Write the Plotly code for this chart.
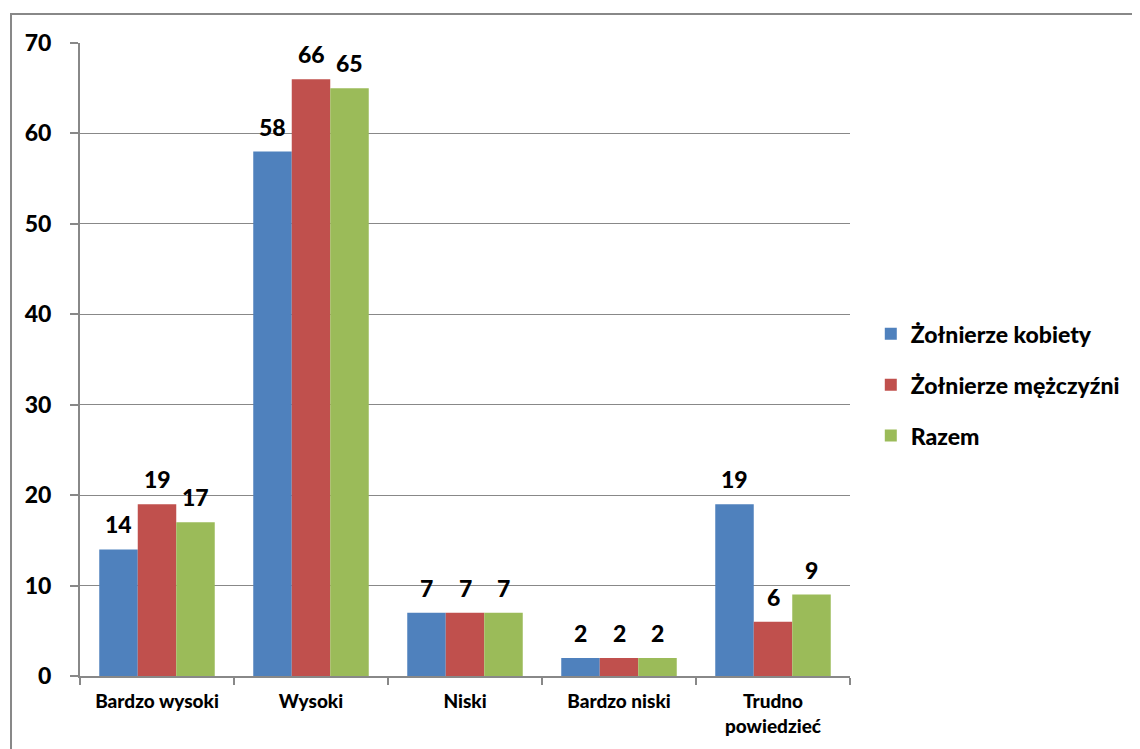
import plotly.graph_objects as go

categories = ["Bardzo wysoki", "Wysoki", "Niski", "Bardzo niski", "Trudno<br>powiedzieć"]
kobiety = [14, 58, 7, 2, 19]
mezczyzni = [19, 66, 7, 2, 6]
razem = [17, 65, 7, 2, 9]

series = [
    ("Żołnierze kobiety", kobiety, "#4F81BD"),
    ("Żołnierze mężczyźni", mezczyzni, "#C0504D"),
    ("Razem", razem, "#9BBB59"),
]

FONT = "Lato"
WEIGHT = 900
BAR_W = 0.25  # width of one bar in category units

fig = go.Figure()
annotations = []
for i, (name, vals, color) in enumerate(series):
    off = -1.5 * BAR_W + i * BAR_W
    fig.add_trace(go.Bar(
        x=categories, y=vals, name=name,
        width=BAR_W, offset=off,
        marker=dict(color=color, line=dict(width=0)),
        legendgroup=name,
    ))
    # value labels placed a little above each bar
    for j, v in enumerate(vals):
        annotations.append(dict(
            x=j + off + BAR_W / 2, y=v, xref="x", yref="y",
            text=str(v), showarrow=False, yanchor="middle", yshift=25,
            font=dict(family=FONT, size=23, color="black", weight=WEIGHT),
        ))

fig.update_layout(
    width=1132, height=741,
    margin=dict(l=72, r=290, t=35, b=73),
    paper_bgcolor="white", plot_bgcolor="white",
    barmode="overlay",
    font=dict(family=FONT, color="black"),
    showlegend=True,
    legend=dict(
        x=1.027, y=0.46, xanchor="left", yanchor="middle",
        font=dict(family=FONT, size=23, weight=WEIGHT),
        tracegroupgap=18, itemwidth=30,
    ),
    xaxis=dict(
        showline=True, linecolor="#888888", linewidth=2,
        ticks="outside", tickcolor="#888888", ticklen=7, tickwidth=2,
        tickson="boundaries", ticklabelstandoff=7,
        tickfont=dict(family=FONT, size=19, weight=WEIGHT),
    ),
    yaxis=dict(
        range=[0, 70], dtick=10,
        showgrid=True, gridcolor="#888888", gridwidth=1,
        showline=True, linecolor="#888888", linewidth=2,
        ticks="outside", tickcolor="#888888", ticklen=8, tickwidth=2,
        ticklabelstandoff=14,
        tickfont=dict(family=FONT, size=23, weight=WEIGHT),
        zeroline=False,
    ),
    annotations=annotations,
    shapes=[dict(
        type="rect", xref="paper", yref="paper",
        x0=-0.0896, y0=-1, x1=2, y1=1.0458,
        line=dict(color="#888888", width=2), layer="below",
    )],
)

fig.write_html("out.html")
